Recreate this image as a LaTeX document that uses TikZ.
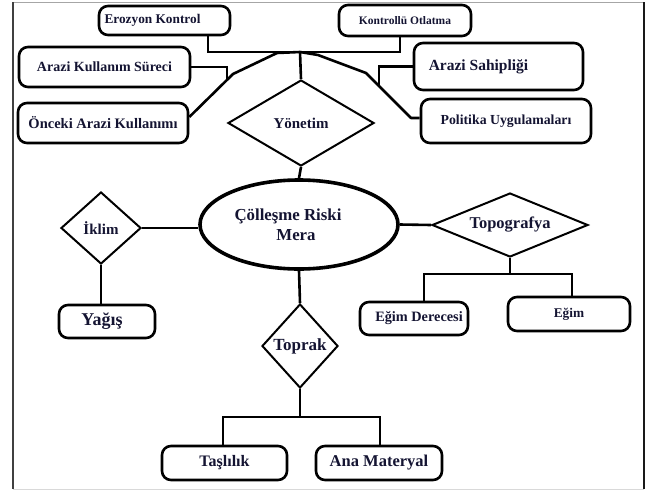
\documentclass[tikz,border=0pt]{standalone}
\usepackage{fontspec}
\setmainfont{Liberation Serif}
\usetikzlibrary{shapes.geometric,calc}
\definecolor{txt}{RGB}{20,20,50}
\begin{document}
\begin{tikzpicture}[x=1pt,y=-1pt,
  fsz/.style={font=\fontsize{#1}{#1}\selectfont\bfseries},
  box/.style={draw,rounded corners=9pt,line width=2.6pt,inner sep=0pt,text=txt},
  dia/.style={draw,diamond,line width=2pt,inner sep=0pt,text=txt},
  conn/.style={line width=2.6pt}]
\useasboundingbox (0,0) rectangle (648,490);
% frame
\draw[gray!70,line width=0.8pt] (13,2) -- (644,2);
\draw[gray!30,line width=0.8pt] (13,489) -- (644,489);
\draw[black!75,line width=1.6pt] (13,2) -- (13,489);
\draw[black!90,line width=1.6pt] (644,2) -- (644,489);

% top boxes
\node[box,fsz=13.3,minimum width=131pt,minimum height=29pt] (ero) at (164.5,20.5) {Erozyon Kontrol\hspace*{24pt}};
\node[box,fsz=11.5,minimum width=132pt,minimum height=31pt] (kon) at (405,20.5) {Kontrollü Otlatma};
\node[box,fsz=14,minimum width=171pt,minimum height=40pt] (aks) at (104.5,67) {Arazi Kullanım Süreci};
\node[box,fsz=14.5,minimum width=170pt,minimum height=40pt] (onc) at (103,123) {Önceki Arazi Kullanımı};
\node[box,fsz=15.5,minimum width=169pt,minimum height=47pt] (sah) at (498.5,66.5) {Arazi Sahipliği\hspace*{40pt}};
\node[box,fsz=13.8,minimum width=170pt,minimum height=44pt] (pol) at (506,121) {Politika Uygulamaları};

% diamonds and ellipse
\node[dia,fsz=15,minimum width=146pt,minimum height=86pt] (yon) at (301,123) {Yönetim};
\node[draw,ellipse,line width=3.6pt,minimum width=198pt,minimum height=89pt,inner sep=0pt,text=txt,
      align=center,font=\fontsize{16.8}{19.5}\selectfont\bfseries] (ell) at (299,224.5)
      {Çölleşme Riski\hspace*{22pt}\\Mera\hspace*{6pt}};
\node[dia,fsz=15,minimum width=80pt,minimum height=72pt] (ikl) at (101,228) {İklim};
\node[dia,fsz=16.5,shape aspect=2.4,minimum width=156pt,minimum height=64pt] (top) at (510,225) {Topografya};
\node[dia,fsz=17,minimum width=76pt,minimum height=84pt] (tpr) at (300,346) {Toprak};

% lower boxes
\node[box,fsz=18,minimum width=96pt,minimum height=33pt] (yag) at (107,321.5) {Yağış\hspace*{10pt}};
\node[box,fsz=14.3,minimum width=108pt,minimum height=33pt] (egd) at (414,318.5) {\hspace*{10pt}Eğim Derecesi};
\node[box,fsz=13.3,minimum width=122pt,minimum height=34pt] (egm) at (569,314) {Eğim};
\node[box,fsz=16,minimum width=125pt,minimum height=34pt] (tas) at (224.5,463) {Taşlılık};
\node[box,fsz=16.5,minimum width=126pt,minimum height=34pt] (ana) at (379,463) {Ana Materyal};

% junction coordinates
\coordinate (hub) at (300,52);
\coordinate (l1) at (233,74);
\coordinate (l2) at (277,53);
\coordinate (lj) at (227,80);
\coordinate (r0) at (411,118);
\coordinate (r1) at (366,73);
\coordinate (r2) at (318,55);
\coordinate (rj) at (379,86);
\coordinate (tj) at (510,274);
\coordinate (bj) at (300,417);

% top connectors
\draw[conn] ([xshift=43.5pt]ero.south) -- ([xshift=43.5pt]ero.south |- hub) -- ([xshift=-5pt]kon.south |- hub) -- ([xshift=-5pt]kon.south);
\draw[conn] (hub) -- (yon.north);
\draw[conn,line join=round] ([yshift=6pt]onc.east) -- (l1) -- (l2) -- (hub);
\draw[conn] (aks.east) -| (lj);
\draw[conn,line join=round] ([yshift=3pt]pol.west) -- (r0) -- (r1) -- (r2) -- (hub);
\draw[conn] (sah.west) -| (rj);

% middle connectors
\draw[conn] (yon.south) -- (ell.north);
\draw[conn] (ikl.east) -- (ikl.east -| ell.west);
\draw[conn] (ell.east) -- (top.west);
\draw[conn] (ikl.south) -- (ikl.south |- yag.north);
\draw[conn] (ell.south) -- (tpr.north);
\draw[conn] (top.south) -- (tj);
\draw[conn] ([xshift=10pt]egd.north) |- (tj) -| ([xshift=3pt]egm.north);

% bottom connectors
\draw[conn] (tpr.south) -- (bj);
\draw[conn] ([xshift=-1.5pt]tas.north) |- (bj) -| ([xshift=1pt]ana.north);
\end{tikzpicture}
\end{document}
